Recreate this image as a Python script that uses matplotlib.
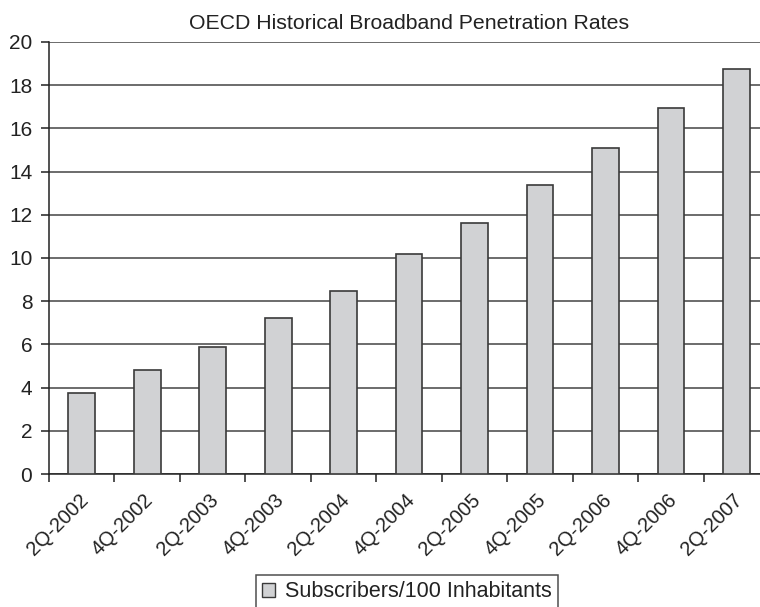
import matplotlib
matplotlib.use("Agg")
import matplotlib.pyplot as plt
from matplotlib.patches import Patch
import matplotlib.transforms as mtransforms
import numpy as np

plt.rcParams['font.family'] = ['Liberation Sans', 'DejaVu Sans']

quarters = ["2Q-2002", "4Q-2002", "2Q-2003", "4Q-2003", "2Q-2004", "4Q-2004",
            "2Q-2005", "4Q-2005", "2Q-2006", "4Q-2006", "2Q-2007"]
subscribers = [3.77, 4.82, 5.87, 7.22, 8.47, 10.17, 11.62, 13.37, 15.08, 16.94, 18.73]
y_ticks = [0, 2, 4, 6, 8, 10, 12, 14, 16, 18, 20]

fig = plt.figure(figsize=(7.6, 6.07), dpi=100)
ax = fig.add_axes([0.0645, 0.219, 0.9475, 0.712])

x = np.arange(len(quarters))
ax.bar(x, subscribers, width=0.41, color="#d1d2d4", edgecolor="#3a3a3a",
       linewidth=1.2, zorder=3)

ax.set_xlim(-0.5, len(quarters) - 0.5)
ax.set_ylim(0, 20)
ax.set_yticks(y_ticks)
ax.yaxis.grid(True, color="#444444", linewidth=1.1, zorder=0)
ax.set_axisbelow(True)

for s in ("top", "right"):
    ax.spines[s].set_visible(False)
for s in ("left", "bottom"):
    ax.spines[s].set_color("#222222")
    ax.spines[s].set_linewidth(1.1)

ax.tick_params(axis="y", length=6, width=1.1, color="#222222", labelsize=15,
               pad=6, labelcolor="#222222")

# category boundary ticks, labels at category centres
ax.set_xticks(x)
ax.set_xticks(np.arange(len(quarters) + 1) - 0.5, minor=True)
ax.tick_params(axis="x", which="major", length=0, labelsize=14.5, labelcolor="#222222")
ax.tick_params(axis="x", which="minor", length=6, width=1.1, color="#222222")
ax.set_xticklabels(quarters, rotation=45, ha="right", rotation_mode="anchor")
offset = mtransforms.ScaledTranslation(-2.5 / 72, -8 / 72, fig.dpi_scale_trans)
for lbl in ax.get_xticklabels():
    lbl.set_transform(lbl.get_transform() + offset)

# title centred over the plotting area
ax.set_title("OECD Historical Broadband Penetration Rates", fontsize=15.3,
             color="#222222", pad=9)

handle = Patch(facecolor="#d1d2d4", edgecolor="#3a3a3a", linewidth=1.0)
leg = fig.legend([handle], ["Subscribers/100 Inhabitants"], loc="upper center",
                 bbox_to_anchor=(0.5355, 0.053), fontsize=15.5, frameon=True,
                 fancybox=False, edgecolor="#222222", handlelength=0.6,
                 handleheight=0.6, handletextpad=0.45, borderpad=0.3,
                 borderaxespad=0.0, labelcolor="#222222")
leg.get_frame().set_linewidth(1.1)

fig.savefig("out.png", dpi=100)
